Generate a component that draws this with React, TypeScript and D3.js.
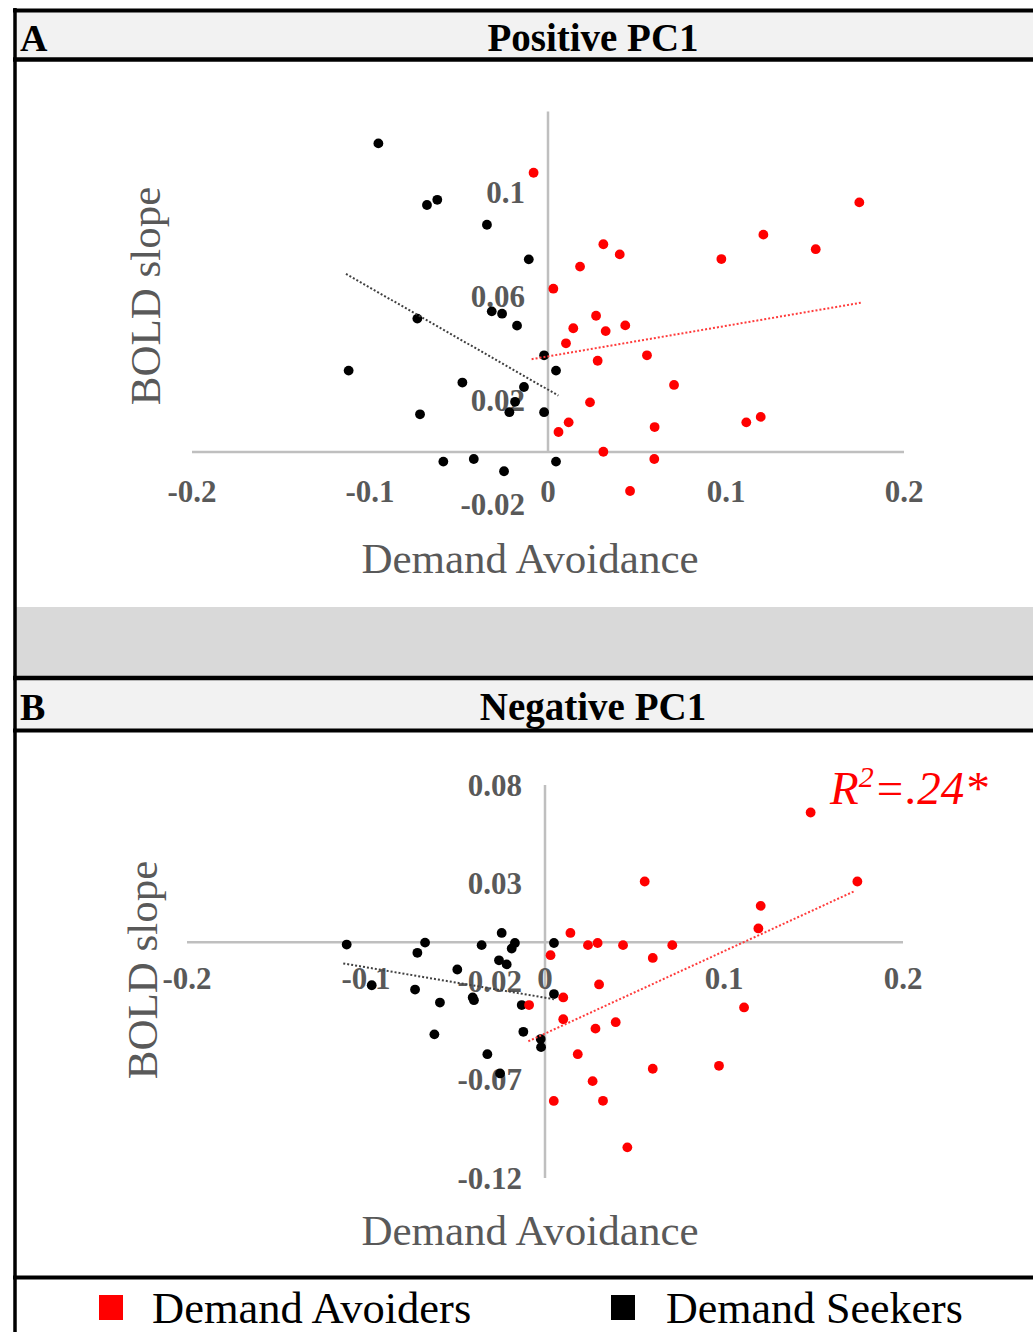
import React from 'react';
import * as d3 from 'd3';

const FONT = '"Liberation Serif", "Times New Roman", serif';
const AXIS_GRAY = '#bfbfbf';
const TEXT_GRAY = '#595959';
const RED = '#ff0000';

// ---- tick data ----
const xTicks = [-0.2, -0.1, 0, 0.1, 0.2];
const xTickLabels = ['-0.2', '-0.1', '0', '0.1', '0.2'];
const aYTicks = [0.1, 0.06, 0.02, -0.02];
const aYTickLabels = ['0.1', '0.06', '0.02', '-0.02'];
const bYTicks = [0.08, 0.03, -0.02, -0.07, -0.12];
const bYTickLabels = ['0.08', '0.03', '-0.02', '-0.07', '-0.12'];

// ---- Panel A (Positive PC1) ----
const aSeekersX = [-0.0953, -0.068, -0.0622, -0.0343, -0.0108, -0.0734, -0.0316, -0.0258, -0.0174, -0.0022, 0.0045, -0.112, -0.0481, -0.0135, -0.0719, -0.0217, -0.0185, -0.0022, -0.0588, -0.0417, -0.0247, 0.0045];
const aSeekersY = [0.1187, 0.095, 0.097, 0.0874, 0.0741, 0.0513, 0.0541, 0.0532, 0.0486, 0.0372, 0.0313, 0.0313, 0.0267, 0.025, 0.0145, 0.0153, 0.0193, 0.0153, -0.0037, -0.0027, -0.0074, -0.0037];
const aAvoidersX = [-0.0081, 0.1749, 0.121, 0.1504, 0.0974, 0.0311, 0.0403, 0.018, 0.003, 0.027, 0.0142, 0.0324, 0.0434, 0.0101, 0.0279, 0.0556, 0.0708, 0.0236, 0.0116, 0.0059, 0.0599, 0.1114, 0.1195, 0.0311, 0.0597, 0.0461];
const aAvoidersY = [0.1074, 0.096, 0.0836, 0.078, 0.0742, 0.0799, 0.076, 0.0713, 0.0628, 0.0524, 0.0476, 0.0465, 0.0487, 0.0418, 0.0351, 0.0372, 0.0258, 0.0191, 0.0114, 0.0077, 0.0096, 0.0114, 0.0135, 0.0001, -0.0027, -0.015];
const aSeekersTrendX = [-0.1135, 0.0058];
const aSeekersTrendY = [0.0685, 0.0217];
const aAvoidersTrendX = [-0.0092, 0.1757];
const aAvoidersTrendY = [0.0357, 0.0574];

// ---- Panel B (Negative PC1) ----
const bSeekersX = [-0.1108, -0.067, -0.0713, -0.0354, -0.0242, -0.0168, -0.0186, -0.0257, -0.0214, -0.049, 0.005, -0.0968, -0.0726, -0.0587, -0.0404, -0.0397, 0.005, -0.013, -0.0618, -0.0121, -0.0024, -0.0022, -0.0322, -0.0251];
const bSeekersY = [-0.0012, -0.0002, -0.0054, -0.0015, 0.0047, -0.0004, -0.0032, -0.0092, -0.0113, -0.0139, -0.0004, -0.0219, -0.0241, -0.0307, -0.0281, -0.0295, -0.0264, -0.032, -0.0469, -0.0456, -0.0493, -0.0534, -0.057, -0.0668];
const bAvoidersX = [0.1484, 0.1745, 0.0557, 0.1205, 0.1192, 0.0142, 0.024, 0.0294, 0.0436, 0.0711, 0.0602, 0.0031, 0.0302, 0.0102, -0.0089, 0.1112, 0.0102, 0.0395, 0.0282, 0.0183, 0.0602, 0.0972, 0.0266, 0.0049, 0.0324, 0.046];
const bAvoidersY = [0.066, 0.0309, 0.0309, 0.0185, 0.007, 0.0047, -0.0015, -0.0004, -0.0015, -0.0015, -0.008, -0.0066, -0.0215, -0.0281, -0.032, -0.0332, -0.0392, -0.0407, -0.044, -0.057, -0.0644, -0.0629, -0.0707, -0.0808, -0.0807, -0.1044];
const bSeekersTrendX = [-0.1127, 0.005];
const bSeekersTrendY = [-0.0108, -0.029];
const bAvoidersTrendX = [-0.0093, 0.1732];
const bAvoidersTrendY = [-0.0504, 0.0261];

const legendLabels = ['Demand Avoiders', 'Demand Seekers'];

type PanelProps = {
  xScale: d3.ScaleLinear<number, number>;
  yScale: d3.ScaleLinear<number, number>;
  yTicks: number[];
  yTickLabels: string[];
  vAxisFrom: number;
  vAxisTo: number;
  seekersX: number[];
  seekersY: number[];
  avoidersX: number[];
  avoidersY: number[];
  sTrendX: number[];
  sTrendY: number[];
  aTrendX: number[];
  aTrendY: number[];
  xLabelOffset: number;
  yLabelX: number;
  yLabelY: number;
  xTitleY: number;
};

function Panel(p: PanelProps) {
  const { xScale, yScale } = p;
  const x0 = xScale(0);
  const y0 = yScale(0);
  const line = d3.line<[number, number]>().x(d => xScale(d[0])).y(d => yScale(d[1]));
  const sPts: [number, number][] = p.sTrendX.map((v, i) => [v, p.sTrendY[i]]);
  const aPts: [number, number][] = p.aTrendX.map((v, i) => [v, p.aTrendY[i]]);
  return (
    <g>
      {/* axes */}
      <line x1={xScale(-0.2)} x2={xScale(0.2)} y1={y0} y2={y0} stroke={AXIS_GRAY} strokeWidth={2.5} />
      <line x1={x0} x2={x0} y1={yScale(p.vAxisFrom)} y2={yScale(p.vAxisTo)} stroke={AXIS_GRAY} strokeWidth={2.5} />
      {/* tick labels */}
      {xTicks.map((t, i) => (
        <text key={'x' + i} x={xScale(t)} y={y0 + p.xLabelOffset} textAnchor="middle" dominantBaseline="central"
          fontFamily={FONT} fontWeight="bold" fontSize={31} fill={TEXT_GRAY}>{xTickLabels[i]}</text>
      ))}
      {p.yTicks.map((t, i) => (
        <text key={'y' + i} x={x0 - 23} y={yScale(t)} textAnchor="end" dominantBaseline="central"
          fontFamily={FONT} fontWeight="bold" fontSize={31} fill={TEXT_GRAY}>{p.yTickLabels[i]}</text>
      ))}
      {/* points */}
      {p.seekersX.map((v, i) => (
        <circle key={'s' + i} cx={xScale(v)} cy={yScale(p.seekersY[i])} r={4.9} fill="#000" />
      ))}
      {p.avoidersX.map((v, i) => (
        <circle key={'a' + i} cx={xScale(v)} cy={yScale(p.avoidersY[i])} r={4.9} fill={RED} />
      ))}
      {/* trendlines */}
      <path d={line(sPts) || ''} stroke="#404040" strokeWidth={2} strokeDasharray="2 2" fill="none" />
      <path d={line(aPts) || ''} stroke="#ff3b3b" strokeWidth={2} strokeDasharray="2 2" fill="none" />
      {/* axis titles */}
      <text transform={`translate(${p.yLabelX},${p.yLabelY}) rotate(-90)`} textAnchor="middle"
        fontFamily={FONT} fontSize={43} fill={TEXT_GRAY}>BOLD slope</text>
      <text x={530} y={p.xTitleY} textAnchor="middle" fontFamily={FONT} fontSize={43} fill={TEXT_GRAY}>Demand Avoidance</text>
    </g>
  );
}

export default function App() {
  const xA = d3.scaleLinear().domain([-0.2, 0.2]).range([192, 904]);
  const yA = d3.scaleLinear().domain([-0.02, 0.1]).range([504, 192]);
  const xB = d3.scaleLinear().domain([-0.2, 0.2]).range([187, 903]);
  const yB = d3.scaleLinear().domain([-0.12, 0.08]).range([1178, 785]);

  return (
    <svg width={1033} height={1332} style={{ position: 'absolute', left: 0, top: 0, display: 'block' }}>
      <rect x={0} y={0} width={1033} height={1332} fill="#fff" />
      {/* header A */}
      <rect x={15} y={12} width={1018} height={46} fill="#f2f2f2" />
      <line x1={13} x2={1033} y1={10.5} y2={10.5} stroke="#000" strokeWidth={4} />
      <line x1={13} x2={1033} y1={59.5} y2={59.5} stroke="#000" strokeWidth={4.5} />
      <text x={20} y={51} fontFamily={FONT} fontWeight="bold" fontSize={38} fill="#000">A</text>
      <text x={593} y={51} textAnchor="middle" fontFamily={FONT} fontWeight="bold" fontSize={39} fill="#000">Positive PC1</text>

      {/* gray spacer */}
      <rect x={15} y={607} width={1018} height={69} fill="#d9d9d9" />
      {/* header B */}
      <rect x={15} y={680} width={1018} height={49} fill="#f2f2f2" />
      <line x1={13} x2={1033} y1={678} y2={678} stroke="#000" strokeWidth={4.5} />
      <line x1={13} x2={1033} y1={730.5} y2={730.5} stroke="#000" strokeWidth={4} />
      <text x={20} y={720} fontFamily={FONT} fontWeight="bold" fontSize={38} fill="#000">B</text>
      <text x={593} y={720} textAnchor="middle" fontFamily={FONT} fontWeight="bold" fontSize={39} fill="#000">Negative PC1</text>

      <Panel xScale={xA} yScale={yA} yTicks={aYTicks} yTickLabels={aYTickLabels}
        vAxisFrom={0} vAxisTo={0.131}
        seekersX={aSeekersX} seekersY={aSeekersY} avoidersX={aAvoidersX} avoidersY={aAvoidersY}
        sTrendX={aSeekersTrendX} sTrendY={aSeekersTrendY} aTrendX={aAvoidersTrendX} aTrendY={aAvoidersTrendY}
        xLabelOffset={39} yLabelX={160} yLabelY={296} xTitleY={573} />

      <Panel xScale={xB} yScale={yB} yTicks={bYTicks} yTickLabels={bYTickLabels}
        vAxisFrom={-0.12} vAxisTo={0.08}
        seekersX={bSeekersX} seekersY={bSeekersY} avoidersX={bAvoidersX} avoidersY={bAvoidersY}
        sTrendX={bSeekersTrendX} sTrendY={bSeekersTrendY} aTrendX={bAvoidersTrendX} aTrendY={bAvoidersTrendY}
        xLabelOffset={36} yLabelX={157} yLabelY={970} xTitleY={1245} />

      <text x={830} y={804} fontFamily={FONT} fontStyle="italic" fontSize={47} fill={RED}>
        R<tspan fontSize={30} dy={-17}>2</tspan><tspan dy={17}>=.24*</tspan>
      </text>

      {/* legend */}
      <line x1={13} x2={1033} y1={1277.5} y2={1277.5} stroke="#000" strokeWidth={4} />
      <rect x={99} y={1295} width={24} height={25} fill={RED} />
      <text x={152} y={1323} fontFamily={FONT} fontSize={44.5} fill="#000">{legendLabels[0]}</text>
      <rect x={611} y={1295} width={24} height={25} fill="#000" />
      <text x={666} y={1323} fontFamily={FONT} fontSize={44} fill="#000">{legendLabels[1]}</text>

      {/* left border */}
      <line x1={15} x2={15} y1={8} y2={1332} stroke="#000" strokeWidth={3.5} />
    </svg>
  );
}
